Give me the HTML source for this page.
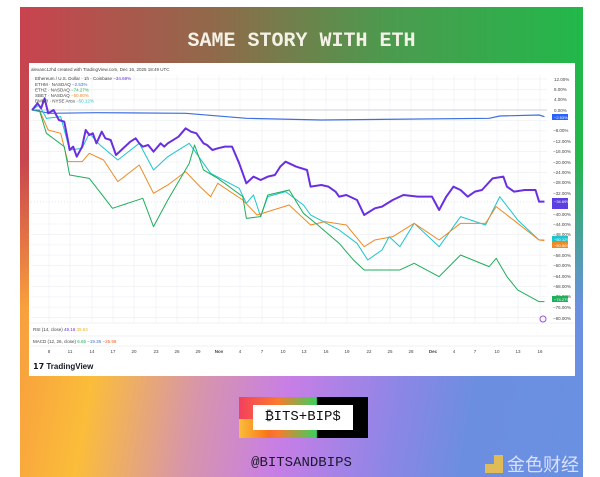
<!DOCTYPE html>
<html><head><meta charset="utf-8"><style>
*{margin:0;padding:0}
html,body{width:600px;height:477px;overflow:hidden}
body{background:#fff;position:relative;font-family:"Liberation Sans",sans-serif}
.card{position:absolute;left:20px;top:7px;width:563px;height:470px;overflow:hidden;
background:linear-gradient(90deg,#c9434f 0%,#8f6a4a 35%,#4c9a4e 65%,#22b84a 100%)}
.bot{position:absolute;left:0;top:150px;width:100%;height:320px;
background:linear-gradient(100deg,#f7953f 0%,#fbbd3a 18%,#d896a8 35%,#c77ee6 50%,#8c86e6 68%,#6c8ee0 80%,#6a90e2 100%);
-webkit-mask-image:linear-gradient(to bottom,transparent 0,#000 150px);mask-image:linear-gradient(to bottom,transparent 0,#000 150px)}
.title{position:absolute;left:0;width:563px;top:23px;text-align:center;color:#f4f1e6;font:bold 20px/24px "Liberation Mono",monospace}
.panel{position:absolute;left:9px;top:56px;width:546px;height:313px;background:#fff}
</style></head><body>
<div class="card">
<div class="bot"></div>
<div class="title">SAME STORY WITH ETH</div>
<div class="panel"></div>
<div style="position:absolute;left:219px;top:390px;width:129px;height:41px;background:linear-gradient(90deg,#f43f5e,#fb7a2c 30%,#3ccf5f 60%,#000 61%);"></div>
<div style="position:absolute;left:219px;top:412px;width:30px;height:19px;background:linear-gradient(90deg,#fbbd3a,#f97316)"></div>
<div style="position:absolute;left:233px;top:398px;width:100px;height:25px;background:#fff;font:14px/25px 'Liberation Mono',monospace;color:#111;text-align:center">₿ITS+BIP$</div>
<div style="position:absolute;left:0;width:563px;top:448px;text-align:center;font:14px/16px 'Liberation Mono',monospace;color:#1a1a2a">@BITSANDBIPS</div>
<div style="position:absolute;left:465px;top:446px;font:18px/22px 'Noto Sans CJK SC',sans-serif;color:#eef;opacity:.85"><span style="color:#f5c542">▟</span> 金色财经</div>
</div>
<svg width="600" height="477" style="position:absolute;left:0;top:0" font-family="Liberation Sans,sans-serif">
<g stroke="#eef0f4" stroke-width="0.7">
<line x1="31" x2="547" y1="79" y2="79"/><line x1="31" x2="547" y1="89.4" y2="89.4"/><line x1="31" x2="547" y1="99.8" y2="99.8"/>
<line x1="31" x2="547" y1="120.4" y2="120.4"/><line x1="31" x2="547" y1="130.8" y2="130.8"/><line x1="31" x2="547" y1="141.2" y2="141.2"/><line x1="31" x2="547" y1="151.6" y2="151.6"/><line x1="31" x2="547" y1="162" y2="162"/><line x1="31" x2="547" y1="172.4" y2="172.4"/><line x1="31" x2="547" y1="182.8" y2="182.8"/><line x1="31" x2="547" y1="193.2" y2="193.2"/><line x1="31" x2="547" y1="213.6" y2="213.6"/><line x1="31" x2="547" y1="224" y2="224"/><line x1="31" x2="547" y1="234.4" y2="234.4"/><line x1="31" x2="547" y1="244.8" y2="244.8"/><line x1="31" x2="547" y1="255.2" y2="255.2"/><line x1="31" x2="547" y1="265.6" y2="265.6"/><line x1="31" x2="547" y1="276" y2="276"/><line x1="31" x2="547" y1="286.4" y2="286.4"/><line x1="31" x2="547" y1="296.8" y2="296.8"/><line x1="31" x2="547" y1="307.2" y2="307.2"/><line x1="31" x2="547" y1="317.6" y2="317.6"/>
<line x1="49" x2="49" y1="75" y2="322"/><line x1="70" x2="70" y1="75" y2="322"/><line x1="92" x2="92" y1="75" y2="322"/><line x1="113" x2="113" y1="75" y2="322"/><line x1="134" x2="134" y1="75" y2="322"/><line x1="156" x2="156" y1="75" y2="322"/><line x1="177" x2="177" y1="75" y2="322"/><line x1="198" x2="198" y1="75" y2="322"/><line x1="219" x2="219" y1="75" y2="322"/><line x1="240" x2="240" y1="75" y2="322"/><line x1="262" x2="262" y1="75" y2="322"/><line x1="283" x2="283" y1="75" y2="322"/><line x1="304" x2="304" y1="75" y2="322"/><line x1="326" x2="326" y1="75" y2="322"/><line x1="347" x2="347" y1="75" y2="322"/><line x1="369" x2="369" y1="75" y2="322"/><line x1="390" x2="390" y1="75" y2="322"/><line x1="411" x2="411" y1="75" y2="322"/><line x1="433" x2="433" y1="75" y2="322"/><line x1="454" x2="454" y1="75" y2="322"/><line x1="475" x2="475" y1="75" y2="322"/><line x1="497" x2="497" y1="75" y2="322"/><line x1="518" x2="518" y1="75" y2="322"/><line x1="540" x2="540" y1="75" y2="322"/>
</g>
<line x1="31" x2="547" y1="110" y2="110" stroke="#d8dadf" stroke-width="1.2"/>
<line x1="31" x2="547" y1="202" y2="202" stroke="#c8cce8" stroke-width="0.6" stroke-dasharray="1,2"/>
<line x1="31" x2="575" y1="323" y2="323" stroke="#eee" stroke-width="0.7"/>
<line x1="31" x2="575" y1="336" y2="336" stroke="#eee" stroke-width="0.7"/>
<line x1="31" x2="575" y1="346" y2="346" stroke="#eee" stroke-width="0.7"/>
<g transform="translate(25,90) scale(0.357,0.3333)" fill="none" stroke-linejoin="round">
<polyline vector-effect="non-scaling-stroke" stroke="#3d6fe0" stroke-width="1.2" points="20,60 70,70 200,68 450,70 620,85 830,90 1300,85 1330,78 1440,75 1455,80"/>
<polyline vector-effect="non-scaling-stroke" stroke="#1cc4cf" stroke-width="1" points="20,60 40,45 60,85 100,80 125,180 160,175 180,130 210,165 260,210 320,160 360,240 400,200 460,160 480,190 520,250 600,295 620,340 640,315 660,380 680,320 730,305 780,345 800,375 880,420 930,460 960,510 1000,480 1020,440 1050,470 1090,400 1160,470 1220,380 1290,405 1330,320 1380,390 1440,450 1455,450"/>
<polyline vector-effect="non-scaling-stroke" stroke="#f08a24" stroke-width="1" points="20,60 40,60 65,120 100,130 120,215 160,215 180,190 220,210 260,275 320,225 360,310 400,285 450,245 490,290 520,320 540,280 610,330 650,375 740,345 800,405 840,395 900,405 950,470 980,450 1030,440 1090,400 1160,450 1220,400 1290,400 1320,350 1380,400 1440,450 1455,452"/>
<polyline vector-effect="non-scaling-stroke" stroke="#1fae5a" stroke-width="1" points="20,60 40,60 60,130 110,170 125,255 180,265 220,320 245,355 330,325 360,410 400,330 460,220 475,165 500,240 540,265 610,320 620,385 660,380 680,315 740,300 780,370 820,405 880,460 920,510 950,540 1050,540 1090,520 1160,560 1220,495 1300,530 1320,505 1350,560 1380,600 1440,635 1455,635"/>
<polyline vector-effect="non-scaling-stroke" stroke="#6a2fe0" stroke-width="2" points="20,60 35,40 45,55 55,25 65,70 80,60 95,90 110,95 120,150 125,180 135,170 145,200 160,170 170,120 180,135 190,130 200,160 215,125 225,145 240,150 255,195 270,180 280,170 295,155 310,145 320,160 330,170 345,165 360,185 380,160 390,170 400,160 430,140 450,115 465,125 480,130 500,160 510,165 525,180 540,175 560,170 580,170 600,220 620,280 640,260 660,270 680,260 700,255 715,230 730,215 760,230 790,240 800,290 830,285 850,290 870,305 880,320 900,315 930,330 950,375 980,355 1000,350 1030,330 1060,315 1100,320 1140,320 1160,360 1180,320 1200,290 1220,300 1240,320 1260,305 1280,300 1310,265 1340,260 1350,290 1370,305 1400,300 1430,300 1440,335 1455,335"/>
</g>
<g font-size="4.5" fill="#444">
<text x="31" y="71">alexanc1zhd created with TradingView.com, Dec 16, 2025 18:49 UTC</text>
<text x="35" y="80">Ethereum / U.S. Dollar · 1h · Coinbase <tspan fill="#6a2fe0">−34.69%</tspan></text>
<text x="35" y="86">ETHM · NASDAQ <tspan fill="#3d6fe0">−2.53%</tspan></text>
<text x="35" y="91.5">ETHZ · NASDAQ <tspan fill="#1fae5a">−74.27%</tspan></text>
<text x="35" y="97">SBET · NASDAQ <tspan fill="#f08a24">−50.80%</tspan></text>
<text x="35" y="102.5">BMNR · NYSE Arca <tspan fill="#1cc4cf">−50.12%</tspan></text>
<text x="33" y="331">RSI (14, close) <tspan fill="#6a2fe0">49.16</tspan> <tspan fill="#f0b020">39.63</tspan></text>
<text x="33" y="343">MACD (12, 26, close) <tspan fill="#1fae5a">6.65</tspan> <tspan fill="#3d6fe0">−19.35</tspan> <tspan fill="#f06020">−25.98</tspan></text>
</g>
<g font-size="4.5" fill="#444" text-anchor="middle">
<text x="49" y="353">8</text><text x="70" y="353">11</text><text x="92" y="353">14</text><text x="113" y="353">17</text><text x="134" y="353">20</text><text x="156" y="353">23</text><text x="177" y="353">26</text><text x="198" y="353">29</text><text x="219" y="353" font-weight="bold">Nov</text><text x="240" y="353">4</text><text x="262" y="353">7</text><text x="283" y="353">10</text><text x="304" y="353">13</text><text x="326" y="353">16</text><text x="347" y="353">19</text><text x="369" y="353">22</text><text x="390" y="353">25</text><text x="411" y="353">28</text><text x="433" y="353" font-weight="bold">Dec</text><text x="454" y="353">4</text><text x="475" y="353">7</text><text x="497" y="353">10</text><text x="518" y="353">13</text><text x="540" y="353">16</text>
</g>
<g font-size="4.5" fill="#444">
<text x="554" y="81">12.00%</text><text x="554" y="91">8.00%</text><text x="554" y="101">4.00%</text><text x="554" y="112">0.00%</text>
<text x="553" y="132">−8.00%</text><text x="553" y="143">−12.00%</text><text x="553" y="153">−16.00%</text><text x="553" y="164">−20.00%</text><text x="553" y="174">−24.00%</text><text x="553" y="184">−28.00%</text><text x="553" y="195">−32.00%</text><text x="553" y="216">−40.00%</text><text x="553" y="226">−44.00%</text><text x="553" y="236">−48.00%</text><text x="553" y="257">−56.00%</text><text x="553" y="267">−60.00%</text><text x="553" y="278">−64.00%</text><text x="553" y="288">−68.00%</text><text x="553" y="298">−72.00%</text><text x="553" y="309">−76.00%</text><text x="553" y="320">−80.00%</text>
</g>
<rect x="552" y="114" width="16" height="6" fill="#2962ff"/>
<rect x="552" y="198" width="16" height="11" fill="#5b3fe0"/>
<rect x="552" y="236" width="16" height="6" fill="#1cc4cf"/>
<rect x="552" y="242" width="16" height="6" fill="#f08a24"/>
<rect x="552" y="296" width="16" height="6" fill="#1fae5a"/>
<g font-size="4" fill="#fff"><text x="554" y="119">−2.53%</text><text x="554" y="203">−34.69%</text><text x="554" y="241">−50.12%</text><text x="554" y="247">−50.80%</text><text x="554" y="301">−74.27%</text></g>
<circle cx="543" cy="319" r="3" fill="none" stroke="#9b4fe0" stroke-width="1"/>
<text x="33" y="369" font-size="8" font-weight="bold" fill="#131722">𝟭𝟳 TradingView</text>
</svg>
</body></html>
